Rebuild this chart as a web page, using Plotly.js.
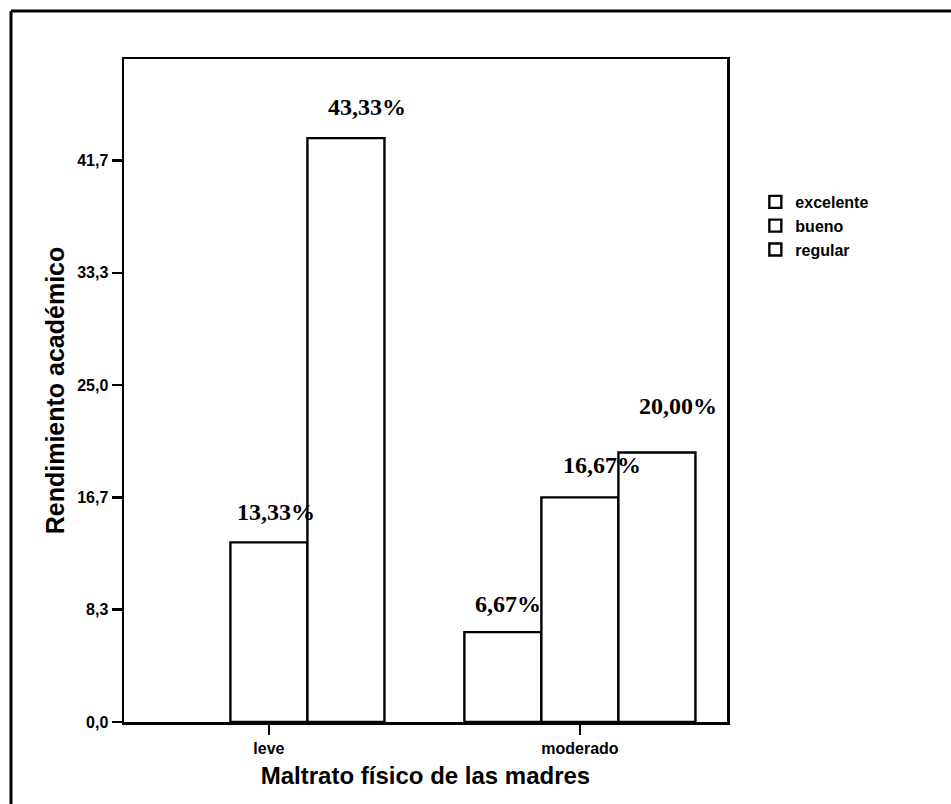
<!DOCTYPE html>
<html>
<head>
<meta charset="utf-8">
<script src="https://cdn.plot.ly/plotly-3.0.1.min.js"></script>
<style>
html,body{margin:0;padding:0;background:#fff;}
#chart{width:951px;height:804px;}
</style>
</head>
<body>
<div id="chart"></div>
<script>
// Data
var categories = ['leve', 'moderado'];
var seriesNames = ['excelente', 'bueno', 'regular'];
var excelente = [null, 6.67];
var bueno = [13.33, 16.67];
var regular = [43.33, 20.00];
var yTickVals = [0, 8.333, 16.667, 25, 33.333, 41.667];
var yTickText = ['0,0', '8,3', '16,7', '25,0', '33,3', '41,7'];

var seriesValues = [excelente, bueno, regular];
var xIdx = categories.map(function(c, i){ return i; });

var traces = seriesValues.map(function(vals, s){
  return {
    type: 'bar',
    name: seriesNames[s],
    x: xIdx,
    y: vals,
    marker: {color: '#ffffff', line: {color: '#000000', width: 2.4}},
    hoverinfo: 'x+y+name'
  };
});

// label offsets (pixels) relative to bar top-centre, to mimic the SPSS placement
var labelShift = [
  [null, [5, 28]],
  [[7, 30], [22, 32]],
  [[21, 31], [21, 46]]
];
var barW = (1 - 0.257) / 3;
var annotations = [];
seriesValues.forEach(function(vals, s){
  vals.forEach(function(v, c){
    if (v === null) return;
    var sh = labelShift[s][c];
    annotations.push({
      x: xIdx[c] + (s - 1) * barW,
      y: v,
      xref: 'x', yref: 'y',
      text: v.toFixed(2).replace('.', ',') + '%',
      showarrow: false,
      xshift: sh[0], yshift: sh[1],
      font: {family: 'Liberation Serif, Times New Roman, serif', size: 24, color: '#000', weight: 'bold'}
    });
  });
});

var layout = {
  width: 951, height: 804,
  margin: {l: 124, r: 224, t: 59, b: 82, pad: 0},
  paper_bgcolor: '#ffffff',
  plot_bgcolor: '#ffffff',
  barmode: 'group',
  bargap: 0.257,
  bargroupgap: 0,
  showlegend: true,
  legend: {
    x: 1.047, y: 0.81, xanchor: 'left', yanchor: 'top',
    traceorder: 'normal',
    font: {family: 'Liberation Sans, Arial, sans-serif', size: 16, color: '#000', weight: 'bold'},
    bgcolor: 'rgba(0,0,0,0)',
    itemwidth: 30,
    tracegroupgap: 0
  },
  xaxis: {
    type: 'linear',
    range: [-0.466, 1.473],
    tickvals: xIdx,
    ticktext: categories,
    ticks: 'outside', ticklen: 10, tickwidth: 2.5, tickcolor: '#000',
    showgrid: false, zeroline: false,
    showline: true, linecolor: '#000', linewidth: 2.5, mirror: true,
    tickfont: {family: 'Liberation Sans, Arial, sans-serif', size: 16, color: '#000', weight: 'bold'},
    title: {text: 'Maltrato físico de las madres', standoff: 12,
      font: {family: 'Liberation Sans, Arial, sans-serif', size: 24, color: '#000', weight: 'bold'}},
    fixedrange: true
  },
  yaxis: {
    range: [0, 49.2],
    tickvals: yTickVals,
    ticktext: yTickText,
    ticks: 'outside', ticklen: 10, tickwidth: 2.5, tickcolor: '#000',
    showgrid: false, zeroline: false,
    showline: true, linecolor: '#000', linewidth: 2.5, mirror: true,
    tickfont: {family: 'Liberation Sans, Arial, sans-serif', size: 16, color: '#000', weight: 'bold'},
    title: {text: 'Rendimiento académico', standoff: 6,
      font: {family: 'Liberation Sans, Arial, sans-serif', size: 25, color: '#000', weight: 'bold'}},
    fixedrange: true
  },
  annotations: annotations,
  shapes: [
    {type: 'line', xref: 'paper', yref: 'paper',
     x0: (11 - 124) / 603, x1: (11 - 124) / 603, y0: -0.2, y1: (722 - 11) / 663,
     line: {color: '#000', width: 3}},
    {type: 'line', xref: 'paper', yref: 'paper',
     x0: (11 - 124) / 603, x1: 1.5, y0: (722 - 11) / 663, y1: (722 - 11) / 663,
     line: {color: '#000', width: 3}}
  ]
};

Plotly.newPlot('chart', traces, layout, {displayModeBar: false, staticPlot: true});
</script>
</body>
</html>
